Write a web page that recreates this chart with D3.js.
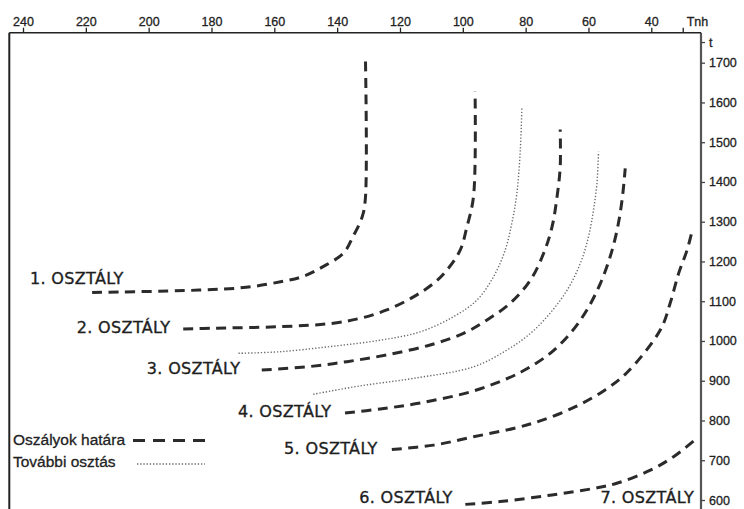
<!DOCTYPE html>
<html><head><meta charset="utf-8">
<script src="https://cdn.jsdelivr.net/npm/d3@7"></script>
<style>
html,body{margin:0;padding:0;background:#fff;}
svg{display:block;}
</style>
</head><body>
<svg id="chart" width="744" height="509"></svg>
<script>
// Top axis (Tnh) ticks, right axis (t) ticks
const topTicks = [240,220,200,180,160,140,120,100,80,60,40];
const topExtraTick = {value:30, label:"Tnh"};
const rightTicks = [1700,1600,1500,1400,1300,1200,1100,1000,900,800,700,600];
const rightExtraTick = {value:1752, label:"t"};

// Class boundaries (dashed): [Tnh, t]
const boundary1 = [[218,1122],[184,1128],[169,1135],[158,1149],[151,1162],[144.5,1187],[138,1221],[135,1262],[132,1313],[131,1360],[131,1715]];
const boundary2 = [[189,1030],[179.5,1032],[158,1036],[142,1044],[132.7,1057],[124.2,1078],[115.7,1111],[109.3,1145],[105.1,1178],[100.8,1229],[98.7,1287],[96.6,1363],[96.1,1627]];
const boundary3 = [[164,927],[149.6,935],[136.9,948],[124.2,965],[110.4,990],[99.8,1019],[92.3,1053],[84.9,1095],[78.5,1153],[74.3,1220],[71.6,1287],[70,1363],[69,1438],[69,1532]];
const boundary4 = [[137.5,819],[126.3,829],[113.6,844],[97.6,872],[86,905],[79.6,930],[72.2,969],[65.8,1019],[60.5,1078],[56.2,1145],[53.1,1212],[50.9,1279],[49.3,1355],[48.3,1434]];
const boundary5 = [[122.6,727],[109.3,738],[96.6,759],[83.9,780],[75.4,799],[64.3,834],[54.7,877],[47.8,920],[37.1,1028],[34,1095],[31.3,1170],[28.6,1229],[27,1277]];
const boundary6 = [[99.2,589],[88.1,596],[72.2,612],[58.4,629],[51,642],[40.3,675],[32.9,709],[25.5,755]];
// Further subdivision (dotted)
const subdivA = [[171.4,969],[158.2,973],[142.2,986],[126.3,1002],[113.6,1023],[103,1061],[95.5,1103],[90.2,1162],[86.5,1229],[84.4,1296],[82.8,1371],[81.7,1480],[81.2,1589]];
const subdivB = [[147.6,866],[132.7,887],[115.7,906],[96.6,935],[86,977],[78.5,1019],[72.2,1070],[66.8,1128],[62.6,1195],[60,1262],[58.4,1329],[57.3,1397],[56.8,1476]];

const dashedSeries = [boundary1,boundary2,boundary3,boundary4,boundary5,boundary6];
const dottedSeries = [subdivA,subdivB];

// Class labels: [text, Tnh, t, anchor]
const classLabels = [
  ["1. OSZTÁLY",237.8,1143.6,"start"],
  ["2. OSZTÁLY",222.9,1019.6,"start"],
  ["3. OSZTÁLY",200.6,917.3,"start"],
  ["4. OSZTÁLY",171.6,809,"start"],
  ["5. OSZTÁLY",156.9,715.4,"start"],
  ["6. OSZTÁLY",133,593.7,"start"],
  ["7. OSZTÁLY",26.4,593.7,"end"]
];
const legendItems = [["Oszályok határa","dash"],["További osztás","dot"]];

const svg = d3.select("#chart");
const x = d3.scaleLinear().domain([240,40]).range([23,651.3]);
const y = d3.scaleLinear().domain([1700,600]).range([62.7,500]);
const frameLeft = 9.3, frameRight = 701, frameTop = 32.7, frameBottom = 512;

const DASH = "10,6.5", DOT = "1.3,1.9";
const dashColor = "#2b2b2b", dotColor = "#6a6a6a";
const axisFont = "Liberation Sans, Arial, sans-serif";

// frame
svg.append("line").attr("x1",frameLeft).attr("x2",frameLeft).attr("y1",frameTop).attr("y2",frameBottom)
  .attr("stroke","#222").attr("stroke-width",2);
svg.append("line").attr("x1",frameRight).attr("x2",frameRight).attr("y1",frameTop).attr("y2",frameBottom)
  .attr("stroke","#555").attr("stroke-width",2.2);

function styleText(sel, size){
  sel.attr("font-family",axisFont).attr("font-size",size).attr("fill","#222")
     .attr("stroke","#222").attr("stroke-width",0.3);
}

// top axis
const topAxis = d3.axisTop(x).tickValues(topTicks.concat([topExtraTick.value]))
  .tickSize(5).tickSizeOuter(0)
  .tickFormat(d => d === topExtraTick.value ? "" : d);
const gTop = svg.append("g").attr("transform",`translate(0,${frameTop})`).call(topAxis);
gTop.select(".domain").attr("d",`M${frameLeft},0H${frameRight}`).attr("stroke","#222").attr("stroke-width",1.6);
gTop.selectAll(".tick line").attr("stroke","#222").attr("stroke-width",1.3);
styleText(gTop.selectAll(".tick text").attr("y",-7), "12.5px");
styleText(svg.append("text").attr("x",x(topExtraTick.value)+4).attr("y",frameTop-7).text(topExtraTick.label), "12.5px");

// right axis
const rightAxis = d3.axisRight(y).tickValues(rightTicks.concat([rightExtraTick.value]))
  .tickSize(4).tickSizeOuter(0)
  .tickFormat(d => d === rightExtraTick.value ? rightExtraTick.label : d);
const gRight = svg.append("g").attr("transform",`translate(${frameRight},0)`).call(rightAxis);
gRight.select(".domain").remove();
gRight.selectAll(".tick line").attr("stroke","#444").attr("stroke-width",1.3);
styleText(gRight.selectAll(".tick text").attr("x",8), "12.5px");

// curves
const line = d3.line().x(d=>x(d[0])).y(d=>y(d[1])).curve(d3.curveCatmullRom.alpha(0.5));
svg.append("g").selectAll("path").data(dashedSeries).join("path")
  .attr("d",line).attr("fill","none").attr("stroke",dashColor).attr("stroke-width",3)
  .attr("stroke-dasharray",DASH);
svg.append("g").selectAll("path").data(dottedSeries).join("path")
  .attr("d",line).attr("fill","none").attr("stroke",dotColor).attr("stroke-width",1.4)
  .attr("stroke-dasharray",DOT);

// class labels
svg.append("g").selectAll("text").data(classLabels).join("text")
  .attr("x",d=>x(d[1])).attr("y",d=>y(d[2])).attr("text-anchor",d=>d[3])
  .attr("font-family","DejaVu Sans, Verdana, sans-serif").attr("font-size","16px")
  .attr("letter-spacing","0.35px").attr("fill","#1e1e1e")
  .attr("stroke","#1e1e1e").attr("stroke-width",0.35).text(d=>d[0]);

// legend
const lg = svg.append("g");
legendItems.forEach((it,i)=>{
  const yy = 445 + i*22;
  styleText(lg.append("text").attr("x",13).attr("y",yy).text(it[0]), "15.5px");
  if(it[1]==="dash"){
    lg.append("line").attr("x1",133).attr("x2",205).attr("y1",yy-4.5).attr("y2",yy-4.5)
      .attr("stroke",dashColor).attr("stroke-width",3).attr("stroke-dasharray","12,8");
  } else {
    lg.append("line").attr("x1",137).attr("x2",205).attr("y1",yy-3).attr("y2",yy-3)
      .attr("stroke",dotColor).attr("stroke-width",1.4).attr("stroke-dasharray",DOT);
  }
});
</script>
</body></html>
